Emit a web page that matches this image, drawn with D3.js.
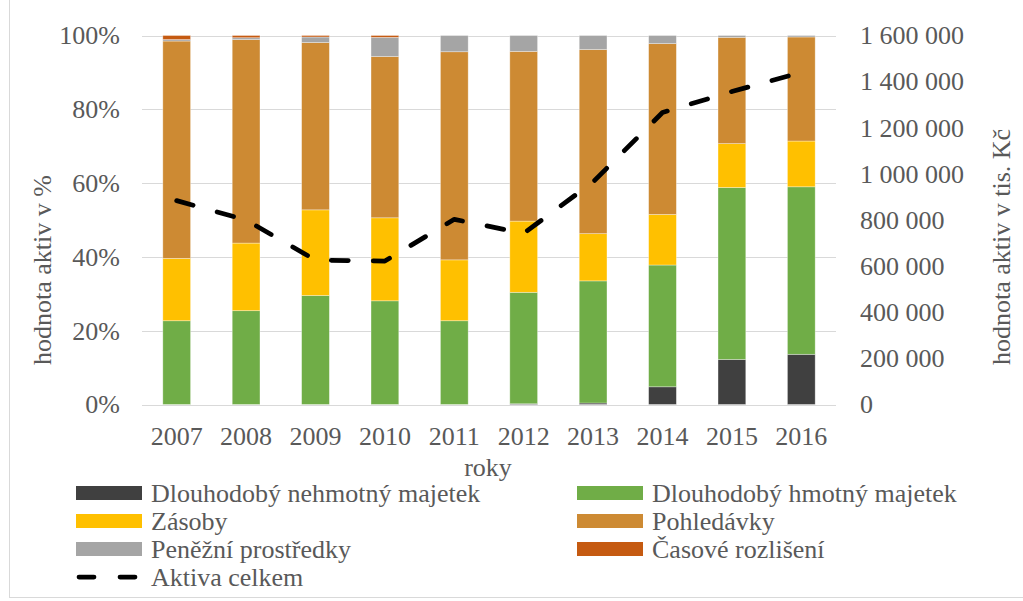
<!DOCTYPE html>
<html>
<head>
<meta charset="utf-8">
<script src="https://cdn.jsdelivr.net/npm/d3@7"></script>
<style>
  html, body { margin: 0; padding: 0; background: #fff; }
  svg { display: block; }
  svg text { font-family: "Liberation Serif", "Tinos", "Times New Roman", "DejaVu Serif", serif !important; fill: #595959; }
</style>
</head>
<body>
<svg id="chart" width="1023" height="601"></svg>
<script>
// Roky
const years = ["2007", "2008", "2009", "2010", "2011", "2012", "2013", "2014", "2015", "2016"];

// Struktura aktiv v % (podíl na aktivech celkem)
const nehmotny   = [0.0, 0.0, 0.0, 0.0, 0.0, 0.2, 0.4, 4.8, 12.2, 13.6];
const hmotny     = [22.7, 25.4, 29.5, 28.1, 22.7, 30.2, 33.1, 33.0, 46.6, 45.4];
const zasoby     = [16.9, 18.3, 23.2, 22.5, 16.5, 19.3, 12.8, 13.7, 11.9, 12.4];
const pohledavky = [58.9, 55.1, 45.3, 43.7, 56.4, 46.0, 49.9, 46.3, 28.8, 28.2];
const penezni    = [0.4, 0.5, 1.5, 5.2, 4.4, 4.3, 3.8, 2.2, 0.5, 0.4];
const casove     = [1.1, 0.6, 0.4, 0.5, 0.0, 0.0, 0.0, 0.0, 0.0, 0.0];

// Aktiva celkem v tis. Kč
const aktivaCelkem = [884000, 800000, 626000, 622000, 803000, 742000, 965000, 1266000, 1357000, 1440000];

// Popisky os
const leftTicks  = [0, 0.2, 0.4, 0.6, 0.8, 1.0];
const rightTicks = [0, 200000, 400000, 600000, 800000, 1000000, 1200000, 1400000, 1600000];

const seriesDefs = [
  { key: "nehmotny",   name: "Dlouhodobý nehmotný majetek", values: nehmotny,   color: "#404040" },
  { key: "hmotny",     name: "Dlouhodobý hmotný majetek",   values: hmotny,     color: "#70AD47" },
  { key: "zasoby",     name: "Zásoby",                      values: zasoby,     color: "#FFC000" },
  { key: "pohledavky", name: "Pohledávky",                  values: pohledavky, color: "#CD8A33" },
  { key: "penezni",    name: "Peněžní prostředky",          values: penezni,    color: "#A5A5A5" },
  { key: "casove",     name: "Časové rozlišení",            values: casove,     color: "#C55A11" }
];

const rows = years.map((y, i) => {
  const r = { year: y };
  seriesDefs.forEach(s => { r[s.key] = s.values[i]; });
  return r;
});

const svg = d3.select("#chart");
const plot = { left: 142, right: 836, top: 35.5, bottom: 404.5 };
const FS = 26;
const FONT = '"Liberation Serif", "Tinos", "Times New Roman", "DejaVu Serif", serif';

// Rámeček grafu
svg.append("rect")
  .attr("x", 9.5).attr("y", -2).attr("width", 1030).attr("height", 599.5)
  .attr("fill", "none").attr("stroke", "#D9D9D9").attr("stroke-width", 1);

const x = d3.scaleBand().domain(years).range([plot.left, plot.right]).paddingInner(0.6).paddingOuter(0.3);
const y = d3.scaleLinear().domain([0, 1]).range([plot.bottom, plot.top]);
const yR = d3.scaleLinear().domain([0, 1600000]).range([plot.bottom, plot.top]);

// Mřížka
svg.append("g")
  .selectAll("line").data(leftTicks).join("line")
  .attr("x1", plot.left).attr("x2", plot.right)
  .attr("y1", d => Math.round(y(d)) + 0.5).attr("y2", d => Math.round(y(d)) + 0.5)
  .attr("stroke", "#D9D9D9").attr("stroke-width", 1);

// Skládané sloupce (100 %)
const stack = d3.stack().keys(seriesDefs.map(s => s.key)).offset(d3.stackOffsetExpand);
const stacked = stack(rows);

svg.append("g")
  .selectAll("g").data(stacked).join("g")
  .attr("fill", (d, i) => seriesDefs[i].color)
  .selectAll("rect").data(d => d).join("rect")
  .attr("x", d => x(d.data.year))
  .attr("width", x.bandwidth())
  .attr("y", d => y(d[1]))
  .attr("height", d => Math.max(0, y(d[0]) - y(d[1])))
  .attr("stroke", "rgba(255,255,255,0.45)")
  .attr("stroke-width", 0.75);

function styleAxisText(g) {
  g.attr("font-family", FONT).attr("font-size", FS);
  g.selectAll("text").attr("font-family", FONT).attr("font-size", FS).attr("fill", "#595959");
}

// Levá osa
const leftAxis = svg.append("g")
  .attr("transform", `translate(${plot.left - 22},0)`)
  .call(d3.axisLeft(y).tickValues(leftTicks).tickFormat(d3.format(".0%")).tickSize(0).tickPadding(0));
leftAxis.select(".domain").remove();
styleAxisText(leftAxis);

// Pravá osa
const cz = d3.formatLocale({ decimal: ",", thousands: "\u00a0", grouping: [3], currency: ["", " Kč"] });
const rightAxis = svg.append("g")
  .attr("transform", `translate(${plot.right + 24},0)`)
  .call(d3.axisRight(yR).tickValues(rightTicks).tickFormat(cz.format(",")).tickSize(0).tickPadding(0));
rightAxis.select(".domain").remove();
styleAxisText(rightAxis);

// Osa x
const bottomAxis = svg.append("g")
  .attr("transform", `translate(0,${plot.bottom + 22})`)
  .call(d3.axisBottom(x).tickSize(0).tickPadding(0));
bottomAxis.select(".domain").remove();
styleAxisText(bottomAxis);
bottomAxis.selectAll("text").attr("dy", "0.71em");

// Názvy os
svg.append("text")
  .attr("transform", `translate(${(plot.left + plot.right) / 2 - 1},${476})`)
  .attr("text-anchor", "middle").attr("font-size", FS).text("roky");

svg.append("text")
  .attr("transform", `translate(${51},${270}) rotate(-90)`)
  .attr("text-anchor", "middle").attr("font-size", FS).text("hodnota aktiv v %");

svg.append("text")
  .attr("transform", `translate(${1010},${247}) rotate(-90)`)
  .attr("text-anchor", "middle").attr("font-size", FS).text("hodnota aktiv v tis. Kč");

// Čára Aktiva celkem
const line = d3.line()
  .x((d, i) => x(years[i]) + x.bandwidth() / 2)
  .y(d => yR(d));

svg.append("path")
  .datum(aktivaCelkem)
  .attr("d", line)
  .attr("fill", "none")
  .attr("stroke", "#000")
  .attr("stroke-width", 4.75)
  .attr("stroke-linecap", "round")
  .attr("stroke-linejoin", "round")
  .attr("stroke-dasharray", "17,25");

// Legenda
const legendItems = [
  { s: seriesDefs[0], col: 0, row: 0 },
  { s: seriesDefs[1], col: 1, row: 0 },
  { s: seriesDefs[2], col: 0, row: 1 },
  { s: seriesDefs[3], col: 1, row: 1 },
  { s: seriesDefs[4], col: 0, row: 2 },
  { s: seriesDefs[5], col: 1, row: 2 }
];
const colX = [76, 577];
const rowY = [493, 521, 549, 577];
const swW = 66, swH = 14;

const lg = svg.append("g");
legendItems.forEach(it => {
  const gx = colX[it.col], gy = rowY[it.row];
  lg.append("rect")
    .attr("x", gx).attr("y", gy - swH / 2).attr("width", swW).attr("height", swH)
    .attr("fill", it.s.color);
  lg.append("text")
    .attr("x", gx + swW + 9).attr("y", gy).attr("dy", "0.35em")
    .attr("font-size", FS).text(it.s.name);
});
// Položka čáry v legendě
lg.append("line")
  .attr("x1", colX[0] + 3).attr("x2", colX[0] + swW - 3)
  .attr("y1", rowY[3]).attr("y2", rowY[3])
  .attr("stroke", "#000").attr("stroke-width", 4.75)
  .attr("stroke-linecap", "round").attr("stroke-dasharray", "15,26");
lg.append("text")
  .attr("x", colX[0] + swW + 9).attr("y", rowY[3]).attr("dy", "0.35em")
  .attr("font-size", FS).text("Aktiva celkem");
</script>
</body>
</html>
